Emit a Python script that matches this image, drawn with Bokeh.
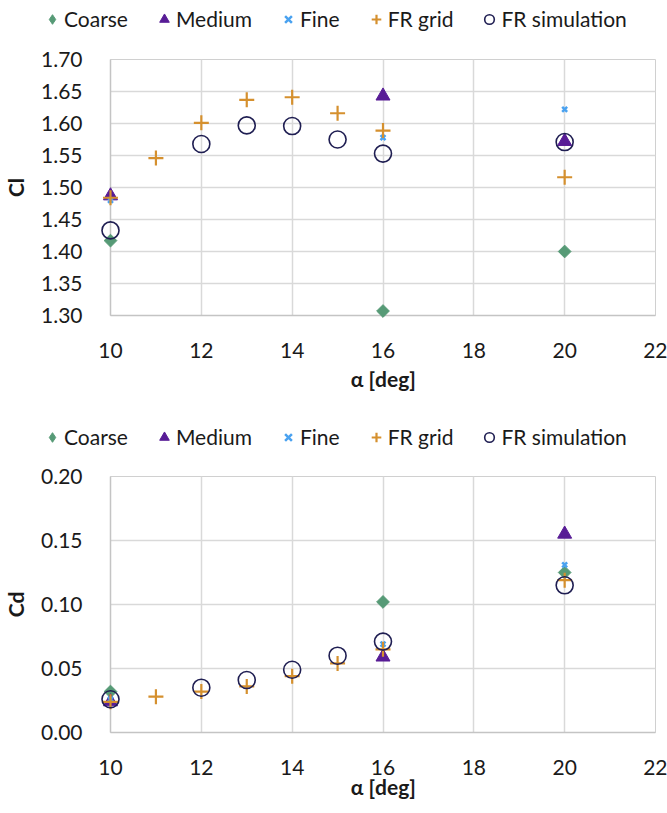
import numpy as np
from bokeh.plotting import figure
from bokeh.models import (Range1d, FixedTicker, PrintfTickFormatter, Legend, LegendItem)
from bokeh.layouts import column
from bokeh.embed import file_html
from bokeh.resources import INLINE

# ---------------- data ----------------
alpha_coarse = [10, 16, 20]
alpha_medium = [10, 16, 20]
alpha_fine = [10, 16, 20]
alpha_frgrid = [10, 11, 12, 13, 14, 15, 16, 20]
alpha_frsim = [10, 12, 13, 14, 15, 16, 20]

cl_coarse = [1.417, 1.307, 1.400]
cl_medium = [1.487, 1.643, 1.572]
cl_fine = [1.480, 1.578, 1.622]
cl_frgrid = [1.484, 1.546, 1.601, 1.637, 1.641, 1.616, 1.589, 1.516]
cl_frsim = [1.433, 1.568, 1.597, 1.596, 1.575, 1.553, 1.571]

cd_coarse = [0.032, 0.102, 0.125]
cd_medium = [0.024, 0.059, 0.155]
cd_fine = [0.026, 0.069, 0.131]
cd_frgrid = [0.024, 0.028, 0.032, 0.036, 0.044, 0.054, 0.065, 0.119]
cd_frsim = [0.026, 0.035, 0.041, 0.049, 0.060, 0.071, 0.115]

x_ticks = [10, 12, 14, 16, 18, 20, 22]
cl_ticks = [1.30, 1.35, 1.40, 1.45, 1.50, 1.55, 1.60, 1.65, 1.70]
cd_ticks = [0.00, 0.05, 0.10, 0.15, 0.20]

labels = ["Coarse", "Medium", "Fine", "FR grid", "FR simulation"]

FONT = "Lato"
C_COARSE = "#569a76"
C_MEDIUM = "#581c96"
C_FINE = "#4aa2f0"
C_FRGRID = "#d5902e"
C_FRSIM = "#1f1e52"


def add_series(p, series, visible=True, legend_style=False):
    (xc, yc), (xm, ym), (xf, yf), (xg, yg), (xs, ys) = series
    if legend_style:
        r1 = p.scatter(xc, yc, marker="diamond", size=14,
                       fill_color=C_COARSE, line_color=C_COARSE, level="overlay")
    else:
        r1 = p.scatter(xc, yc, marker="square", angle=np.pi / 4, size=9,
                       fill_color=C_COARSE, line_color=C_COARSE, level="overlay")
    r2 = p.scatter(xm, ym, marker="triangle", size=14,
                   fill_color=C_MEDIUM, line_color=C_MEDIUM, level="overlay")
    r3 = p.scatter(xf, yf, marker="x", size=7, line_width=2.5,
                   line_color=C_FINE, level="overlay")
    r4 = p.scatter(xg, yg, marker="cross", size=15, line_width=2.2,
                   line_color=C_FRGRID, level="overlay")
    r5 = p.scatter(xs, ys, marker="circle", size=17, line_width=1.6,
                   fill_color=None, line_color=C_FRSIM, level="overlay")
    rs = [r1, r2, r3, r4, r5]
    for r in rs:
        r.visible = visible
    return rs


def make_legend_fig(height, series, legend_y):
    lf = figure(width=667, height=height, output_backend="svg", toolbar_location=None,
                x_axis_type=None, y_axis_type=None,
                x_range=Range1d(0, 1), y_range=Range1d(0, 1),
                min_border_left=0, min_border_right=0, min_border_top=0,
                min_border_bottom=0)
    lf.frame_align = False
    lf.outline_line_color = None
    lf.grid.visible = False
    lf.background_fill_color = "white"
    lf.border_fill_color = "white"
    rs = add_series(lf, series, visible=False, legend_style=True)
    legend = Legend(items=[LegendItem(label=l, renderers=[r])
                           for l, r in zip(labels, rs)],
                    orientation="horizontal", location=(40, legend_y))
    legend.border_line_color = None
    legend.background_fill_alpha = 0
    legend.inactive_fill_alpha = 0
    legend.padding = 0
    legend.margin = 0
    legend.spacing = 24
    legend.glyph_width = 24
    legend.glyph_height = 24
    legend.label_standoff = 0
    legend.label_text_font = FONT
    legend.label_text_font_size = "21px"
    legend.label_text_color = "#1a1a1a"
    lf.add_layout(legend)
    return lf


def make_fig(height, top, bottom, y_range, y_ticks, ylabel, series, xlabel_standoff):
    p = figure(width=667, height=height, output_backend="svg", toolbar_location=None,
               x_range=Range1d(10, 22), y_range=Range1d(*y_range),
               min_border_left=101, min_border_right=12, min_border_top=top,
               min_border_bottom=bottom)
    p.background_fill_color = "white"
    p.border_fill_color = "white"
    p.outline_line_color = "#d0d0d0"
    p.outline_line_width = 1

    for ax in (p.xaxis[0], p.yaxis[0]):
        ax.major_tick_out = 0
        ax.major_tick_in = 0
        ax.minor_tick_out = 0
        ax.minor_tick_in = 0
        ax.axis_line_color = "#c4c4c4"
        ax.axis_line_width = 1.5
        ax.major_label_text_font = FONT
        ax.major_label_text_font_size = "21px"
        ax.major_label_text_color = "#1a1a1a"
        ax.axis_label_text_font = FONT
        ax.axis_label_text_font_size = "21px"
        ax.axis_label_text_font_style = "bold"
        ax.axis_label_text_color = "#1a1a1a"

    p.xaxis.ticker = FixedTicker(ticks=x_ticks)
    p.yaxis.ticker = FixedTicker(ticks=y_ticks)
    p.yaxis.formatter = PrintfTickFormatter(format="%.2f")
    p.xaxis.axis_label = "α [deg]"
    p.yaxis.axis_label = ylabel
    p.xaxis.major_label_standoff = 27
    p.yaxis.major_label_standoff = 28
    p.xaxis.axis_label_standoff = xlabel_standoff
    p.yaxis.axis_label_standoff = 10

    p.xgrid.grid_line_color = "#d9d9d9"
    p.ygrid.grid_line_color = "#d9d9d9"
    p.xgrid.grid_line_width = 1.5
    p.ygrid.grid_line_width = 1.5

    add_series(p, series)
    return p


cl_series = [(alpha_coarse, cl_coarse), (alpha_medium, cl_medium), (alpha_fine, cl_fine),
             (alpha_frgrid, cl_frgrid), (alpha_frsim, cl_frsim)]
cd_series = [(alpha_coarse, cd_coarse), (alpha_medium, cd_medium), (alpha_fine, cd_fine),
             (alpha_frgrid, cd_frgrid), (alpha_frsim, cd_frsim)]

leg1 = make_legend_fig(37, cl_series, 6)
p1 = make_fig(371, 22, 93, (1.30, 1.70), cl_ticks, "Cl", cl_series, 5)
leg2 = make_legend_fig(47, cd_series, 6)
p2 = make_fig(348, 21, 71, (0.0, 0.20), cd_ticks, "Cd", cd_series, -4)

layout = column(leg1, p1, leg2, p2, spacing=0)
open("out.html", "w").write(file_html(layout, INLINE))
